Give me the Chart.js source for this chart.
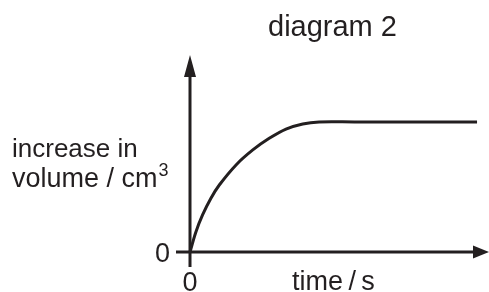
<!DOCTYPE html>
<html>
<head>
<meta charset="utf-8">
<script src="https://cdn.jsdelivr.net/npm/chart.js@4/dist/chart.umd.min.js"></script>
<style>
html,body{margin:0;padding:0;background:#fff;overflow:hidden;}
canvas{display:block;}
</style>
</head>
<body>
<canvas id="c" width="489" height="292"></canvas>
<script>
const timeValues   = [0, 0.20, 0.42, 0.70, 0.98, 1.54, 2.10, 2.65, 3.21, 3.77, 4.32, 5.50, 7.00, 8.50, 9.60];
const volumeValues = [0, 1.03, 1.88, 2.73, 3.40, 4.42, 5.18, 5.77, 6.24, 6.50, 6.60, 6.60, 6.60, 6.60, 6.60];
const xTickLabels = ['0'];
const yTickLabels = ['0'];
const titleText = 'diagram 2';
const xAxisTitle = 'time\u2009/\u2009s';
const yAxisTitleLines = ['increase in', 'volume / cm'];
const yAxisTitleSup = '3';

const INK = '#231f20';
const FONT = '"Liberation Sans", Arial, sans-serif';

const axesPlugin = {
  id: 'axesPlugin',
  beforeDatasetsDraw(chart) {
    const ctx = chart.ctx;
    const xs = chart.scales.x, ys = chart.scales.y;
    const x0 = xs.getPixelForValue(0), y0 = ys.getPixelForValue(0);
    const yTop = ys.getPixelForValue(ys.max), xRight = xs.getPixelForValue(xs.max);
    ctx.save();
    ctx.strokeStyle = INK; ctx.fillStyle = INK; ctx.lineWidth = 3; ctx.lineCap = 'butt';
    // y axis
    ctx.beginPath(); ctx.moveTo(x0, y0 + 15); ctx.lineTo(x0, yTop + 20); ctx.stroke();
    ctx.beginPath(); ctx.moveTo(x0, yTop); ctx.lineTo(x0 - 6, yTop + 22); ctx.lineTo(x0 + 6, yTop + 22); ctx.closePath(); ctx.fill();
    // x axis
    ctx.beginPath(); ctx.moveTo(x0 - 14, y0); ctx.lineTo(xRight - 14, y0); ctx.stroke();
    ctx.beginPath(); ctx.moveTo(xRight, y0); ctx.lineTo(xRight - 16, y0 - 6.5); ctx.lineTo(xRight - 16, y0 + 6.5); ctx.closePath(); ctx.fill();
    // tick labels
    ctx.font = '27px ' + FONT;
    ctx.textBaseline = 'alphabetic';
    ctx.textAlign = 'right';
    ctx.fillText(yTickLabels[0], x0 - 20, y0 + 9.5);
    ctx.textAlign = 'center';
    ctx.fillText(xTickLabels[0], x0, y0 + 39);
    // titles
    ctx.textAlign = 'left';
    ctx.font = '29px ' + FONT;
    ctx.fillText(titleText, 268, 36);
    ctx.font = '27px ' + FONT;
    ctx.fillText(xAxisTitle, 292, 290);
    ctx.font = '26px ' + FONT;
    ctx.fillText(yAxisTitleLines[0], 12, 157);
    ctx.font = '27px ' + FONT;
    ctx.fillText(yAxisTitleLines[1], 12, 187);
    const w = ctx.measureText(yAxisTitleLines[1]).width;
    ctx.font = '18px ' + FONT;
    ctx.fillText(yAxisTitleSup, 12 + w + 1, 176);
    ctx.restore();
  }
};

new Chart(document.getElementById('c'), {
  type: 'line',
  data: {
    datasets: [{
      data: timeValues.map((t, i) => ({x: t, y: volumeValues[i]})),
      borderColor: INK,
      borderWidth: 3,
      pointRadius: 0,
      fill: false,
      tension: 0.35,
      clip: false
    }]
  },
  options: {
    responsive: false,
    devicePixelRatio: 1,
    animation: false,
    layout: { padding: { left: 190, right: 0, top: 55, bottom: 40 } },
    plugins: { legend: { display: false }, title: { display: false }, tooltip: { enabled: false } },
    scales: {
      x: { type: 'linear', min: 0, max: 10, display: false },
      y: { type: 'linear', min: 0, max: 10, display: false }
    }
  },
  plugins: [axesPlugin]
});
</script>
</body>
</html>
